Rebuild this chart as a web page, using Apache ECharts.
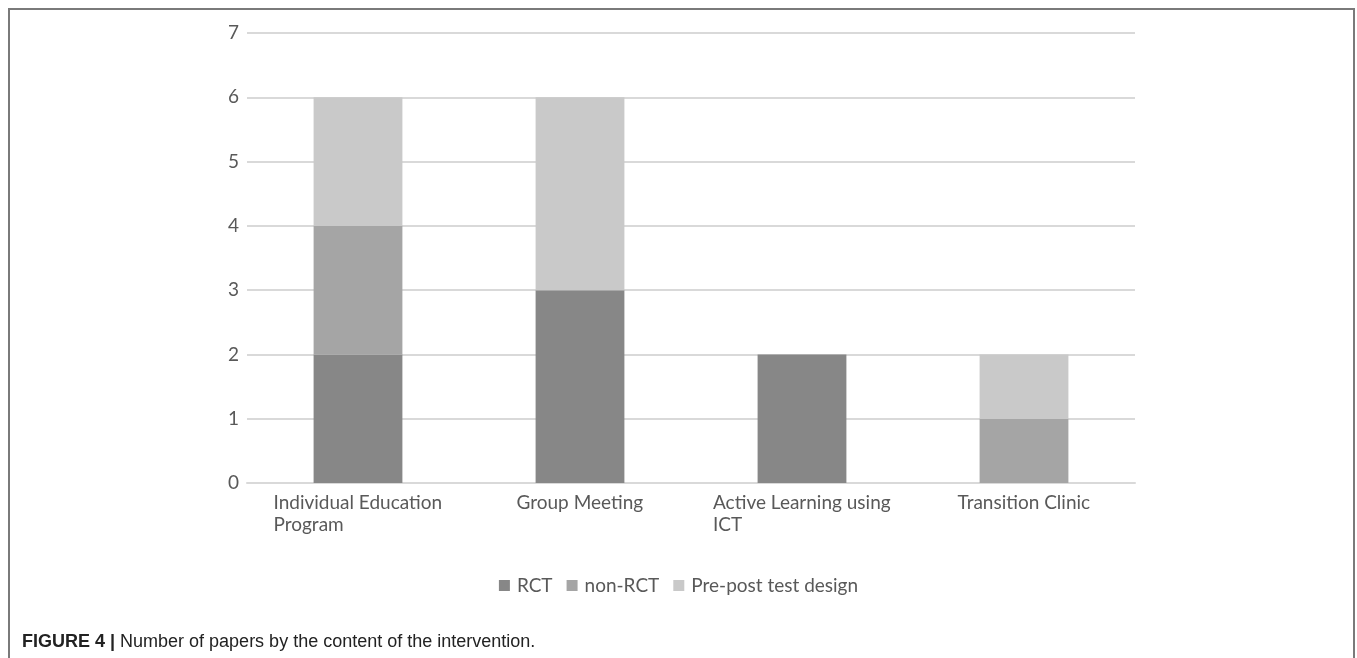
<!DOCTYPE html>
<html>
<head>
<meta charset="utf-8">
<script src="https://cdn.jsdelivr.net/npm/echarts@6/dist/echarts.min.js"></script>
<style>
  html, body { margin: 0; padding: 0; background: #fff; }
  #frame { position: absolute; left: 8px; top: 8px; width: 1347px; height: 650px;
           border-left: 2px solid #7a7a7a; border-top: 2px solid #7a7a7a; border-right: 2px solid #7a7a7a; box-sizing: border-box; }
  #chart { position: absolute; left: 0; top: 0; width: 1357px; height: 658px; }
</style>
</head>
<body>
<div id="frame"></div>
<div id="chart"></div>
<script>
// Interventions and study designs
const categories = ['Individual Education\nProgram', 'Group Meeting', 'Active Learning using\nICT', 'Transition Clinic'];
const rct = [2, 3, 2, 0];
const nonRct = [2, 0, 0, 1];
const prePost = [2, 3, 0, 1];
const yTicks = [0, 1, 2, 3, 4, 5, 6, 7];

const labelSize = 19;
const ctx = document.createElement('canvas').getContext('2d');
ctx.font = labelSize + 'px Lato';
// each wrapped label is a left-aligned block centred under its bar
const rich = {};
categories.forEach((c, i) => {
  const w = Math.max(...c.split('\n').map(s => ctx.measureText(s).width));
  rich['c' + i] = { width: Math.ceil(w), align: 'left', fontFamily: 'Lato', fontSize: labelSize, color: '#595959', lineHeight: 22 };
});

const chart = echarts.init(document.getElementById('chart'));
chart.setOption({
  animation: false,
  title: {
    left: 17, top: 628,
    text: '{b|FIGURE 4 |} {n|Number of papers by the content of the intervention.}',
    textStyle: {
      fontWeight: 'normal',
      rich: {
        b: { fontFamily: 'Liberation Sans, Arial', fontWeight: 'bold', fontSize: 18, color: '#222' },
        n: { fontFamily: 'Liberation Sans, Arial', fontWeight: 'normal', fontSize: 18, color: '#222' }
      }
    }
  },
  legend: {
    top: 571, left: 'center',
    itemWidth: 11, itemHeight: 11, itemGap: 14,
    icon: 'rect',
    textStyle: { fontFamily: 'Lato', fontSize: 19, color: '#595959', padding: [0, 0, 0, 2] },
    data: ['RCT', 'non-RCT', 'Pre-post test design']
  },
  grid: { left: 247, right: 222, top: 33, bottom: 175, containLabel: false },
  xAxis: {
    type: 'category',
    data: categories,
    axisLine: { lineStyle: { color: '#d9d9d9', width: 2 } },
    axisTick: { show: false },
    axisLabel: {
      margin: 9, interval: 0,
      formatter: (v, i) => v.split('\n').map(s => '{c' + i + '|' + s + '}').join('\n'),
      rich: rich
    }
  },
  yAxis: {
    type: 'value', min: 0, max: 7, interval: 1,
    axisLine: { show: false }, axisTick: { show: false },
    axisLabel: { margin: 8, fontFamily: 'Lato', fontSize: labelSize, color: '#595959',
                 formatter: v => yTicks.includes(v) ? String(v) : '' },
    splitLine: { lineStyle: { color: '#d9d9d9', width: 2 } }
  },
  series: [
    { name: 'RCT', type: 'bar', stack: 'd', data: rct, barWidth: '40%', itemStyle: { color: '#878787' } },
    { name: 'non-RCT', type: 'bar', stack: 'd', data: nonRct, itemStyle: { color: '#a5a5a5' } },
    { name: 'Pre-post test design', type: 'bar', stack: 'd', data: prePost, itemStyle: { color: '#c9c9c9' } }
  ]
});
</script>
</body>
</html>
